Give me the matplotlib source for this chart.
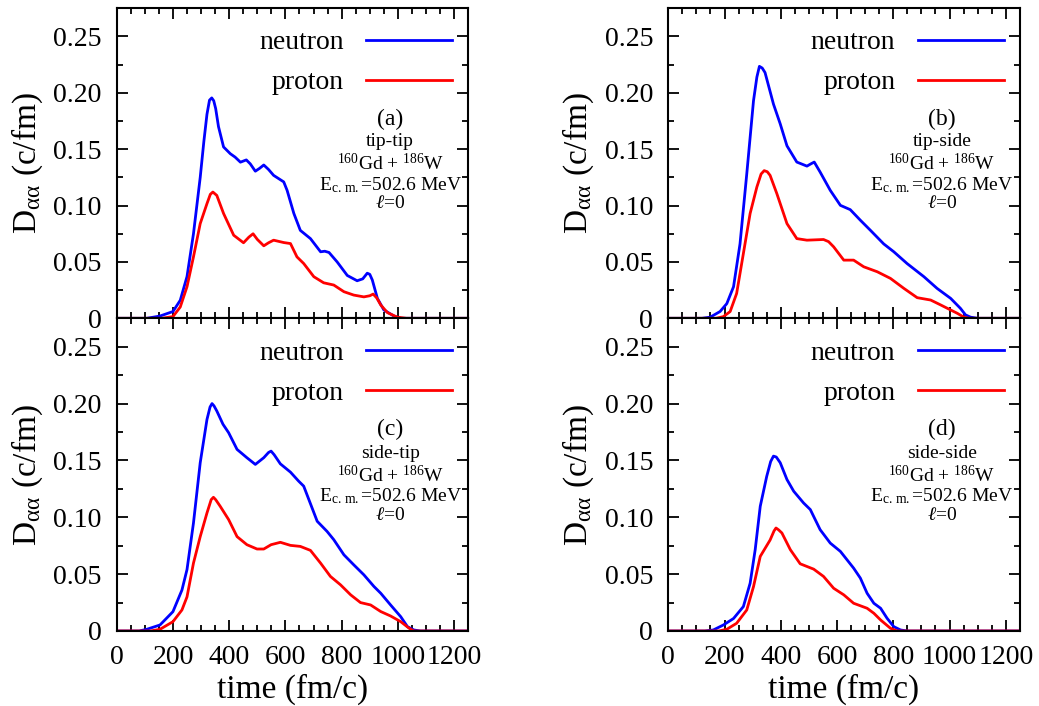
import numpy as np
import matplotlib
matplotlib.use("Agg")
import matplotlib.pyplot as plt
from matplotlib.ticker import MultipleLocator, FuncFormatter

plt.rcParams['font.family'] = ['Liberation Serif', 'DejaVu Serif']
plt.rcParams['mathtext.fontset'] = 'custom'
plt.rcParams['mathtext.rm'] = 'Liberation Serif'
plt.rcParams['mathtext.it'] = 'Liberation Serif:italic'

# ---- data (time in fm/c, D in c/fm) ----
t_a_n = [0, 107, 154, 200, 226, 250, 273, 297, 310, 321, 330, 338, 345, 352, 362, 380, 404, 421, 440,
         461, 475, 493, 508, 523, 540, 558, 594, 606, 630, 653, 689, 725, 740, 755, 784, 820, 855, 875,
         891, 900, 909, 927, 950, 986, 1010, 1250]
d_a_n = [0, 0.0, 0.002, 0.006, 0.016, 0.037, 0.075, 0.125, 0.157, 0.181, 0.1935, 0.1955, 0.193, 0.186,
         0.170, 0.152, 0.146, 0.143, 0.1385, 0.1405, 0.137, 0.1305, 0.133, 0.136, 0.132, 0.1268,
         0.121, 0.1135, 0.093, 0.078, 0.0707, 0.059, 0.0595, 0.0584, 0.050, 0.038, 0.0333, 0.035,
         0.040, 0.039, 0.034, 0.0177, 0.0074, 0.002, 0.0, 0]
t_a_p = [0, 160, 200, 226, 250, 273, 297, 321, 333, 342, 356, 380, 416, 451, 470, 485, 500, 523, 540,
         558, 594, 618, 641, 665, 701, 736, 772, 808, 843, 879, 900, 912, 925, 939, 963, 998, 1030,
         1250]
d_a_p = [0, 0.0, 0.0015, 0.010, 0.028, 0.0545, 0.084, 0.1017, 0.110, 0.112, 0.109, 0.093, 0.0737,
         0.067, 0.072, 0.075, 0.070, 0.0643, 0.067, 0.0693, 0.0672, 0.0663, 0.0545, 0.0486, 0.0369,
         0.0315, 0.0295, 0.0236, 0.0206, 0.019, 0.020, 0.0215, 0.018, 0.0118, 0.005, 0.001, 0.0, 0]

t_b_n = [0, 120, 149, 184, 208, 232, 255, 279, 303, 315, 324, 334, 344, 374, 398, 422, 457, 493, 507,
         519, 540, 576, 612, 647, 683, 719, 766, 802, 849, 909, 956, 1004, 1039, 1057, 1075, 1100,
         1250]
d_b_n = [0, 0.0, 0.001, 0.006, 0.013, 0.028, 0.066, 0.128, 0.193, 0.214, 0.2235, 0.222, 0.218, 0.190,
         0.1725, 0.153, 0.1386, 0.135, 0.137, 0.1386, 0.1297, 0.1135, 0.1002, 0.0964, 0.087, 0.078,
         0.066, 0.059, 0.0486, 0.0369, 0.0265, 0.0177, 0.0088, 0.003, 0.001, 0.0, 0]
t_b_p = [0, 170, 196, 220, 243, 267, 291, 315, 330, 341, 352, 362, 386, 422, 457, 493, 552, 570, 588,
         624, 659, 695, 743, 790, 838, 885, 933, 969, 1004, 1028, 1051, 1070, 1250]
d_b_p = [0, 0.0, 0.0015, 0.006, 0.022, 0.0575, 0.093, 0.1165, 0.128, 0.131, 0.130, 0.1268, 0.1106,
         0.084, 0.0707, 0.0693, 0.0699, 0.068, 0.0634, 0.0516, 0.0516, 0.0457, 0.0413, 0.0354, 0.0265,
         0.0183, 0.0162, 0.0118, 0.0074, 0.0044, 0.001, 0.0, 0]

t_c_n = [0, 80, 107, 154, 200, 232, 250, 273, 297, 321, 332, 339, 346, 356, 378, 398, 428, 463, 493,
         523, 540, 549, 560, 582, 618, 647, 665, 713, 748, 772, 808, 843, 879, 915, 939, 974, 1010,
         1034, 1057, 1080, 1250]
d_c_n = [0, 0.0, 0.0015, 0.0053, 0.017, 0.036, 0.054, 0.095, 0.148, 0.186, 0.197, 0.200, 0.198,
         0.1935, 0.1818, 0.1744, 0.1597, 0.1524, 0.1465, 0.1524, 0.157, 0.1582, 0.155, 0.147, 0.1397,
         0.1318, 0.1274, 0.0965, 0.0876, 0.0803, 0.067, 0.0582, 0.0494, 0.0391, 0.0332, 0.0229,
         0.0126, 0.0038, 0.0009, 0.0, 0]
t_c_p = [0, 120, 154, 200, 232, 250, 273, 297, 321, 336, 344, 352, 368, 398, 428, 463, 499, 523, 549,
         582, 618, 653, 689, 725, 760, 796, 832, 867, 903, 939, 974, 1010, 1040, 1057, 1250]
d_c_p = [0, 0.0, 0.0015, 0.0082, 0.0185, 0.030, 0.0597, 0.083, 0.1038, 0.1155, 0.1176, 0.1155, 0.1097,
         0.098, 0.083, 0.0759, 0.0721, 0.0721, 0.0759, 0.078, 0.0753, 0.0744, 0.0709, 0.0597, 0.048,
         0.0406, 0.0318, 0.025, 0.0229, 0.0171, 0.0132, 0.0082, 0.0024, 0.0, 0]

t_d_n = [0, 130, 160, 196, 232, 267, 291, 309, 327, 350, 364, 374, 384, 398, 422, 446, 481, 505, 540,
         576, 612, 659, 683, 707, 731, 755, 778, 802, 826, 850, 1250]
d_d_n = [0, 0.0, 0.0009, 0.0053, 0.011, 0.0215, 0.042, 0.0715, 0.1097, 0.136, 0.149, 0.1538, 0.153,
         0.148, 0.1332, 0.1229, 0.1126, 0.1068, 0.0891, 0.0773, 0.070, 0.0553, 0.0465, 0.0332, 0.0244,
         0.020, 0.0112, 0.0038, 0.0009, 0.0, 0]
t_d_p = [0, 180, 208, 243, 279, 303, 327, 362, 376, 383, 392, 404, 434, 469, 517, 552, 588, 624, 659,
         707, 731, 755, 790, 814, 1250]
d_d_p = [0, 0.0, 0.0015, 0.0068, 0.0185, 0.039, 0.0656, 0.080, 0.088, 0.0906, 0.089, 0.0862, 0.0715,
         0.0591, 0.0544, 0.048, 0.0376, 0.0318, 0.0244, 0.020, 0.0156, 0.0097, 0.0024, 0.0, 0]

panel_tags = ['(a)', '(b)', '(c)', '(d)']
orientations = ['tip-tip', 'tip-side', 'side-tip', 'side-side']
series = [(t_a_n, d_a_n, t_a_p, d_a_p), (t_b_n, d_b_n, t_b_p, d_b_p),
          (t_c_n, d_c_n, t_c_p, d_c_p), (t_d_n, d_d_n, t_d_p, d_d_p)]

fig = plt.figure(figsize=(10.39, 7.06), dpi=100)
W, H = 1039.0, 706.0
lefts = [116.7, 668.3, 116.7, 668.3]
tops = [8.3, 8.3, 318.3, 318.3]
bots = [318.3, 318.3, 631.0, 631.0]
width = 351.5


def yfmt(v, pos):
    if abs(v) < 1e-9:
        return '0'
    return '%.2f' % v


for i in range(4):
    ax = fig.add_axes([lefts[i] / W, 1 - bots[i] / H, width / W, (bots[i] - tops[i]) / H])
    tn, dn, tp, dp = series[i]
    ax.plot(tn, dn, color='#0000ff', lw=2.0, label='neutron', solid_joinstyle='round')
    ax.plot(tp, dp, color='#ff0000', lw=2.0, label='proton', solid_joinstyle='round')
    ax.set_xlim(0, 1250)
    ax.set_ylim(0, 0.275)
    ax.xaxis.set_major_locator(MultipleLocator(200))
    ax.xaxis.set_minor_locator(MultipleLocator(50))
    ax.yaxis.set_major_locator(MultipleLocator(0.05))
    ax.yaxis.set_minor_locator(MultipleLocator(0.025))
    ax.yaxis.set_major_formatter(FuncFormatter(yfmt))
    ax.tick_params(which='both', direction='in', top=True, right=True, width=1.3)
    ax.tick_params(which='major', length=8, labelsize=20)
    ax.tick_params(axis='y', which='major', pad=11)
    ax.tick_params(axis='x', which='major', pad=10)
    ax.tick_params(which='minor', length=4.5)
    for s in ax.spines.values():
        s.set_linewidth(1.5)
    if i < 2:
        ax.tick_params(labelbottom=False)
    else:
        ax.set_xlabel('time (fm/c)', fontsize=24, labelpad=3)
        ax.set_xticks([0, 200, 400, 600, 800, 1000, 1200])
    ax.set_ylabel(r'D$_{\mathrm{αα}}$ (c/fm)', fontsize=24, labelpad=6)
    ax.legend(loc='upper right', bbox_to_anchor=(0.954, 0.93), markerfirst=False, frameon=False,
              fontsize=20, handlelength=3.1, handletextpad=0.8, labelspacing=0.52,
              borderpad=0.0, borderaxespad=0.0)
    cx = 0.778
    ax.text(cx, 0.643, panel_tags[i], transform=ax.transAxes, ha='center', va='center', fontsize=17)
    ax.text(cx, 0.569, orientations[i], transform=ax.transAxes, ha='center', va='center', fontsize=14)
    ax.text(cx, 0.498, r'$^{160}$Gd + $^{186}$W', transform=ax.transAxes, ha='center', va='center',
            fontsize=14)
    ax.text(cx, 0.430, r'E$_{\mathrm{c.\,m.}}$=502.6 MeV', transform=ax.transAxes, ha='center',
            va='center', fontsize=14)
    ax.text(cx, 0.369, r'$\mathit{ℓ}$=0', transform=ax.transAxes, ha='center', va='center', fontsize=14)

fig.savefig('out.png', dpi=100)
